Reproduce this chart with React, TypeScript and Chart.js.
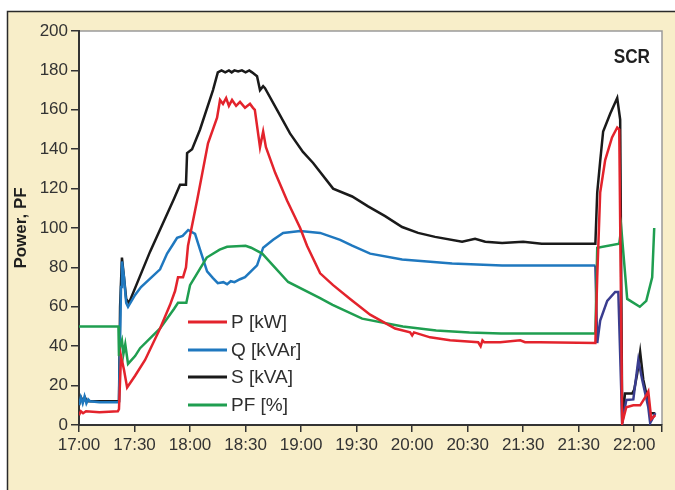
import React, { useEffect, useRef } from 'react';
import { Chart, registerables } from 'chart.js';

Chart.register(...registerables);

// Time axis: minutes after 17:00
const xTickMinutes = [0, 30, 60, 90, 120, 150, 180, 210, 240, 270, 300];
const xTickLabels = ['17:00', '17:30', '18:00', '18:30', '19:00', '19:30', '20:00', '20:30', '21:30', '21:30', '22:00'];
const xEnd = 315;
const yMin = 0;
const yMax = 200;
const yStep = 20;

const seriesLabels = ['P [kW]', 'Q [kVAr]', 'S [kVA]', 'PF [%]'];

// [minutes after 17:00, value]
const pPoints: [number, number][] = [
  [0, 5], [1, 7], [2.2, 6], [3.8, 7], [11, 6.5], [21, 7], [21.6, 8], [22.7, 35], [24.3, 28], [26, 19],
  [30.3, 25], [35.7, 33], [43.8, 49], [49.2, 61], [51.9, 68], [53.5, 75], [56.2, 75], [57.8, 80], [58.9, 91],
  [63.8, 114], [69.7, 143], [74.6, 156], [76.2, 165], [77.8, 163], [79.5, 166], [81, 162], [82.7, 165],
  [84.9, 162], [87, 164], [89.7, 161], [92.4, 163], [94, 161], [95, 160], [97.8, 141], [99.5, 149], [101, 141],
  [106, 128], [112.4, 114], [119.5, 100], [123.2, 91], [130.3, 77], [137.3, 71], [146.5, 64], [157.3, 56],
  [170.8, 49], [178.9, 47], [180, 45.5], [181, 47], [189.7, 44.5], [200.5, 43], [215.7, 42], [217, 40],
  [218, 43], [219, 42], [227.6, 42], [238.4, 43], [241, 42], [249, 42], [279, 41.6], [280, 75], [281.6, 118],
  [284.3, 134.5], [288, 146], [290.8, 151], [291.9, 150], [293.5, 1], [295.7, 9], [299.5, 10], [303.2, 10],
  [305.9, 14], [307.6, 17], [309.2, 3], [311.4, 5],
];

const qPoints: [number, number][] = [
  [0, 10], [1, 14], [2, 11], [3, 14.5], [4, 11], [5, 13], [6, 12], [11, 11.5], [21, 11.5], [21.6, 12],
  [22.7, 70], [23.2, 83], [24.3, 75], [25.5, 62], [26.5, 60], [30.3, 66], [33.5, 70], [43.8, 79], [47.6, 87],
  [51, 92], [53, 95], [56, 96], [59, 99], [62.7, 97], [65.4, 89], [69.2, 78], [72.4, 74.6], [75, 72],
  [78, 72.5], [80, 71.5], [82, 73], [84, 72.5], [87, 74], [89.7, 75], [96.2, 81], [99.5, 90], [104.9, 94],
  [110.3, 97.5], [119.5, 98.5], [130.3, 97.5], [141.1, 94], [147.6, 91], [157.3, 87], [174.6, 84],
  [201.6, 82], [228.6, 81], [279, 81], [280, 41.6], [281.6, 53], [285.4, 63], [289.7, 67.5], [291.4, 67.5],
  [293.5, 1], [295.7, 12.7], [299.5, 13], [302.2, 33], [304.3, 23], [307.6, 9], [308.6, 1], [311.4, 6],
];

const sPoints: [number, number][] = [
  [0, 10], [1.1, 14], [2.2, 12], [3.2, 14], [4.3, 12], [11, 12], [21, 12], [21.6, 12], [22.2, 60], [23.2, 85],
  [24.3, 75], [25.5, 64], [27, 62], [38.4, 88], [51.4, 115], [54.6, 122], [57.8, 122], [58.4, 138], [61.1, 140],
  [65.4, 150], [72.4, 170], [75, 179], [77, 180], [79, 179], [81, 180], [82.5, 179], [84, 180], [86, 179.5],
  [88, 180], [90, 179], [92, 180], [93.5, 179], [96.2, 177], [97.8, 170], [99.5, 172], [100.5, 171],
  [107, 160], [114, 148], [121, 138.6], [126.5, 133], [137.3, 120], [147.6, 116], [156.2, 111], [165.4, 106],
  [174.6, 100.5], [183.2, 97.5], [192.4, 95.5], [207, 93], [214, 94.5], [219.5, 93], [228.6, 92.4],
  [240, 93], [250, 92], [262, 92], [279, 92], [280, 118], [281.6, 134], [283.2, 149], [287, 158],
  [290.8, 166], [292.4, 155], [293.5, 1], [295, 16], [298.9, 16], [300, 18], [301.6, 26], [303.2, 37],
  [304.9, 23], [306.5, 16], [308.6, 6], [311.4, 6],
];

const pfPoints: [number, number][] = [
  [0, 50], [21.3, 50], [21.6, 35], [22.2, 40], [23.2, 43], [24, 36], [25, 41], [26.5, 31], [30.3, 35],
  [33, 39], [43.8, 49], [51.4, 59], [53.5, 62], [58, 62], [60, 71], [69, 85], [76, 89], [80, 90.5], [90, 91],
  [93, 90], [99, 87], [113, 72.6], [130, 64.5], [137, 61], [153, 54], [175, 50], [193, 48], [211, 47],
  [228, 46.5], [279, 46.5], [280, 90], [291.9, 92], [293, 100], [296.2, 64], [303, 60], [306.5, 63],
  [309.7, 75], [310.8, 100],
];

const COLORS = {
  p: '#e3232c',
  q: '#1f78bf',
  qLate: '#3a3d8f',
  s: '#1a1a1a',
  pf: '#1f9e50',
};

const toXY = (pts: [number, number][]) => pts.map(([x, y]) => ({ x, y }));

const FONT = 'Liberation Sans, Arial, Helvetica, sans-serif';

const backgroundPlugin = {
  id: 'bgBox',
  beforeDraw(chart: any) {
    const { ctx, width, height, chartArea } = chart;
    ctx.save();
    ctx.fillStyle = '#ffffff';
    ctx.fillRect(0, 0, width, height);
    ctx.fillStyle = '#f8eec9';
    ctx.fillRect(7, 11, width - 7, height - 11);
    ctx.strokeStyle = '#2a2a2a';
    ctx.lineWidth = 1.5;
    ctx.beginPath();
    ctx.moveTo(7.5, height);
    ctx.lineTo(7.5, 11.5);
    ctx.lineTo(width, 11.5);
    ctx.stroke();
    ctx.fillStyle = '#ffffff';
    ctx.fillRect(chartArea.left, chartArea.top, chartArea.right - chartArea.left, chartArea.bottom - chartArea.top);
    ctx.strokeStyle = '#9a9a9a';
    ctx.lineWidth = 1.5;
    ctx.beginPath();
    ctx.moveTo(chartArea.left, chartArea.top);
    ctx.lineTo(chartArea.right, chartArea.top);
    ctx.lineTo(chartArea.right, chartArea.bottom);
    ctx.stroke();
    ctx.restore();
  },
};

const overlayPlugin = {
  id: 'overlay',
  afterDraw(chart: any) {
    const { ctx } = chart;
    ctx.save();
    // SCR label (condensed bold)
    ctx.save();
    ctx.fillStyle = '#1f1f1f';
    ctx.font = 'bold 21px ' + FONT;
    ctx.textAlign = 'right';
    ctx.textBaseline = 'alphabetic';
    ctx.translate(650, 63);
    ctx.scale(0.82, 1);
    ctx.fillText('SCR', 0, 0);
    ctx.restore();
    // legend
    const colors = [COLORS.p, COLORS.q, COLORS.s, COLORS.pf];
    const rowY = [322, 350, 377, 405];
    ctx.font = '19px ' + FONT;
    ctx.textAlign = 'left';
    ctx.textBaseline = 'middle';
    seriesLabels.forEach((lab, i) => {
      ctx.strokeStyle = colors[i];
      ctx.lineWidth = 3;
      ctx.beginPath();
      ctx.moveTo(188, rowY[i]);
      ctx.lineTo(227, rowY[i]);
      ctx.stroke();
      ctx.fillStyle = '#2e2e2e';
      ctx.fillText(lab, 231, rowY[i] + 1);
    });
    ctx.restore();
  },
};

export default function App() {
  const ref = useRef<HTMLCanvasElement | null>(null);

  useEffect(() => {
    document.body.style.margin = '0';
    const canvas = ref.current;
    if (!canvas) return;
    const lineBase = { pointRadius: 0, borderWidth: 2.5, tension: 0, fill: false };
    const chart = new Chart(canvas, {
      type: 'line',
      data: {
        datasets: [
          { ...lineBase, label: seriesLabels[0], data: toXY(pPoints), borderColor: COLORS.p },
          { ...lineBase, label: seriesLabels[3], data: toXY(pfPoints), borderColor: COLORS.pf },
          {
            ...lineBase,
            label: seriesLabels[1],
            data: toXY(qPoints),
            borderColor: COLORS.q,
            segment: {
              borderColor: (c: any) => (c.p0.parsed.x >= 279 ? COLORS.qLate : COLORS.q),
            },
          },
          { ...lineBase, label: seriesLabels[2], data: toXY(sPoints), borderColor: COLORS.s },
        ],
      },
      options: {
        animation: false,
        responsive: false,
        devicePixelRatio: 1,
        parsing: true,
        layout: { padding: { top: 31, right: 13, left: 0, bottom: 0 } },
        plugins: {
          legend: { display: false },
          tooltip: { enabled: false },
          title: { display: false },
        },
        scales: {
          x: {
            type: 'linear',
            min: 0,
            max: xEnd,
            afterBuildTicks: (scale: any) => {
              scale.ticks = [...xTickMinutes, xEnd].map((v) => ({ value: v }));
            },
            afterFit: (scale: any) => {
              scale.height = 65;
            },
            ticks: {
              autoSkip: false,
              maxRotation: 0,
              minRotation: 0,
              padding: 3,
              color: '#333333',
              font: { family: FONT, size: 17 },
              callback: (value: any) => {
                const i = xTickMinutes.indexOf(Number(value));
                return i >= 0 ? xTickLabels[i] : '';
              },
            },
            grid: { drawOnChartArea: false, drawTicks: true, tickLength: 7, color: '#333333', lineWidth: 1.5 },
            border: { display: true, color: '#333333', width: 2 },
          },
          y: {
            type: 'linear',
            min: yMin,
            max: yMax,
            afterFit: (scale: any) => {
              scale.width = 79;
            },
            ticks: {
              stepSize: yStep,
              padding: 3,
              color: '#333333',
              font: { family: FONT, size: 17 },
            },
            grid: { drawOnChartArea: false, drawTicks: true, tickLength: 8, color: '#333333', lineWidth: 1.5 },
            border: { display: true, color: '#333333', width: 2 },
            title: {
              display: true,
              text: 'Power, PF',
              color: '#1e1e1e',
              font: { family: FONT, size: 17, weight: 'bold' },
              padding: { top: 11, bottom: 0 },
            },
          },
        },
      },
      plugins: [backgroundPlugin, overlayPlugin],
    } as any);
    return () => chart.destroy();
  }, []);

  return (
    <div style={{ width: 675, height: 490 }}>
      <canvas ref={ref} width={675} height={490} style={{ display: 'block', width: 675, height: 490 }} />
    </div>
  );
}
